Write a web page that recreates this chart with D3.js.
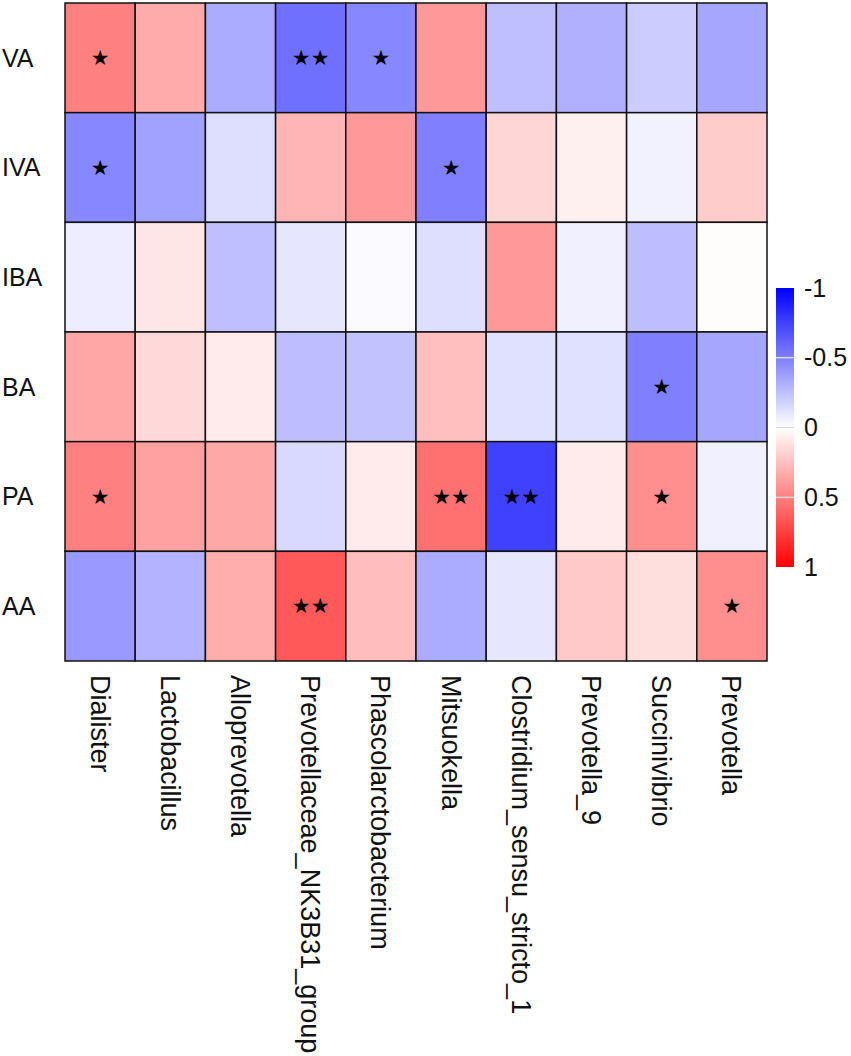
<!DOCTYPE html>
<html>
<head>
<meta charset="utf-8">
<script src="https://cdn.jsdelivr.net/npm/d3@7"></script>
<style>
  body { margin: 0; background: #fff; }
  svg { display: block; font-family: "Liberation Sans", Arial, sans-serif; }
</style>
</head>
<body>
<div id="vis"></div>
<script>
// heatmap of correlations between VFAs and genera

const GENERA = ["Dialister", "Lactobacillus", "Alloprevotella", "Prevotellaceae_NK3B31_group",
                "Phascolarctobacterium", "Mitsuokella", "Clostridium_sensu_stricto_1",
                "Prevotella_9", "Succinivibrio", "Prevotella"];
const ACIDS = ["VA", "IVA", "IBA", "BA", "PA", "AA"];

// one row per acid, values in genus order
const R_VA  = [ 0.50,  0.33, -0.33, -0.56, -0.47,  0.40, -0.25, -0.31, -0.20, -0.35];
const R_IVA = [-0.47, -0.37, -0.13,  0.29,  0.40, -0.50,  0.16,  0.06, -0.05,  0.20];
const R_IBA = [-0.07,  0.10, -0.25, -0.10, -0.02, -0.13,  0.40, -0.06, -0.26,  0.01];
const R_BA  = [ 0.35,  0.15,  0.08, -0.26, -0.24,  0.25, -0.12, -0.12, -0.50, -0.35];
const R_PA  = [ 0.50,  0.37,  0.34, -0.15,  0.08,  0.56, -0.75,  0.08,  0.44, -0.06];
const R_AA  = [-0.40, -0.30,  0.32,  0.65,  0.26, -0.33, -0.10,  0.21,  0.13,  0.44];

// significance marks
const S_VA  = ["*", "", "", "**", "*", "", "", "", "", ""];
const S_IVA = ["*", "", "", "", "", "*", "", "", "", ""];
const S_IBA = ["", "", "", "", "", "", "", "", "", ""];
const S_BA  = ["", "", "", "", "", "", "", "", "*", ""];
const S_PA  = ["*", "", "", "", "", "**", "**", "", "*", ""];
const S_AA  = ["", "", "", "**", "", "", "", "", "", "*"];

const LEGEND_TICKS = [-1, -0.5, 0, 0.5, 1];

const ROWS = [R_VA, R_IVA, R_IBA, R_BA, R_PA, R_AA];
const SIGS = [S_VA, S_IVA, S_IBA, S_BA, S_PA, S_AA];

const FRAME_WIDTH = 851;
const FRAME_HEIGHT = 1056;
const GRID = {left: 65, right: 767, top: 3, bottom: 661};

const svg = d3.select("#vis")
              .append("svg")
                .attr("width", FRAME_WIDTH)
                .attr("height", FRAME_HEIGHT);

// flatten into cells
const cells = [];
ACIDS.forEach((a, i) => {
  GENERA.forEach((g, j) => {
    cells.push({acid: a, genus: g, r: ROWS[i][j], sig: SIGS[i][j]});
  });
});

const X = d3.scaleBand().domain(GENERA).range([GRID.left, GRID.right]);
const Y = d3.scaleBand().domain(ACIDS).range([GRID.top, GRID.bottom]);
const COLOR = d3.scaleLinear()
                .domain([-1, 0, 1])
                .range(["#0000ff", "#ffffff", "#ff0000"]);

// cells
svg.selectAll(".cell")
   .data(cells)
   .enter()
   .append("rect")
     .attr("class", "cell")
     .attr("x", (d) => X(d.genus))
     .attr("y", (d) => Y(d.acid))
     .attr("width", X.bandwidth())
     .attr("height", Y.bandwidth())
     .attr("fill", (d) => COLOR(d.r))
     .attr("stroke", "#111")
     .attr("stroke-width", 1.5);

// stars
svg.selectAll(".sig")
   .data(cells.filter((d) => d.sig !== ""))
   .enter()
   .append("text")
     .attr("class", "sig")
     .attr("x", (d) => X(d.genus) + X.bandwidth() / 2)
     .attr("y", (d) => Y(d.acid) + Y.bandwidth() / 2)
     .attr("text-anchor", "middle")
     .attr("dominant-baseline", "central")
     .attr("font-family", "DejaVu Sans")
     .attr("font-size", "21px")
     .attr("fill", "#000")
     .text((d) => d.sig === "**" ? "\u2605\u2605" : "\u2605");

// row labels
const yAxis = svg.append("g")
                 .call(d3.axisLeft(Y).tickSize(0));
yAxis.select(".domain").remove();
yAxis.selectAll("text")
     .attr("x", 2)
     .attr("dy", "0.35em")
     .attr("text-anchor", "start")
     .attr("font-family", "Liberation Sans, Arial, sans-serif")
     .attr("font-size", "25px")
     .attr("fill", "#111");

// column labels, rotated
const xAxis = svg.append("g")
                 .attr("transform", "translate(0," + GRID.bottom + ")")
                 .call(d3.axisBottom(X).tickSize(0));
xAxis.select(".domain").remove();
xAxis.selectAll("text")
     .attr("transform", "rotate(90)")
     .attr("x", 14)
     .attr("y", 0)
     .attr("dy", "0.35em")
     .attr("text-anchor", "start")
     .attr("font-family", "Liberation Sans, Arial, sans-serif")
     .attr("font-size", "27px")
     .attr("fill", "#111");

// colour bar
const LEG = {x: 776, w: 18, top: 288, bottom: 567};
const LEG_SCALE = d3.scaleLinear().domain([-1, 1]).range([LEG.top, LEG.bottom]);

const grad = svg.append("defs")
                .append("linearGradient")
                  .attr("id", "legGrad")
                  .attr("x1", 0).attr("y1", 0)
                  .attr("x2", 0).attr("y2", 1);
grad.selectAll("stop")
    .data([-1, 0, 1])
    .enter()
    .append("stop")
      .attr("offset", (d) => ((d + 1) / 2 * 100) + "%")
      .attr("stop-color", (d) => COLOR(d));

svg.append("rect")
   .attr("x", LEG.x)
   .attr("y", LEG.top)
   .attr("width", LEG.w)
   .attr("height", LEG.bottom - LEG.top)
   .attr("fill", "url(#legGrad)");

// thin tick lines across the bar
svg.selectAll(".legtick")
   .data(LEGEND_TICKS.filter((d) => Math.abs(d) !== 1))
   .enter()
   .append("line")
     .attr("x1", LEG.x)
     .attr("x2", LEG.x + LEG.w)
     .attr("y1", (d) => LEG_SCALE(d))
     .attr("y2", (d) => LEG_SCALE(d))
     .attr("stroke", (d) => d === 0 ? "#d8d8d8" : "#ffffff")
     .attr("stroke-width", 1);

const legAxis = svg.append("g")
                   .attr("transform", "translate(" + (LEG.x + LEG.w) + ",0)")
                   .call(d3.axisRight(LEG_SCALE)
                           .tickValues(LEGEND_TICKS)
                           .tickSize(0)
                           .tickPadding(10)
                           .tickFormat((d) => String(d)));
legAxis.select(".domain").remove();
legAxis.selectAll("text")
       .attr("font-family", "Liberation Sans, Arial, sans-serif")
       .attr("font-size", "25px")
       .attr("fill", "#111");
</script>
</body>
</html>
